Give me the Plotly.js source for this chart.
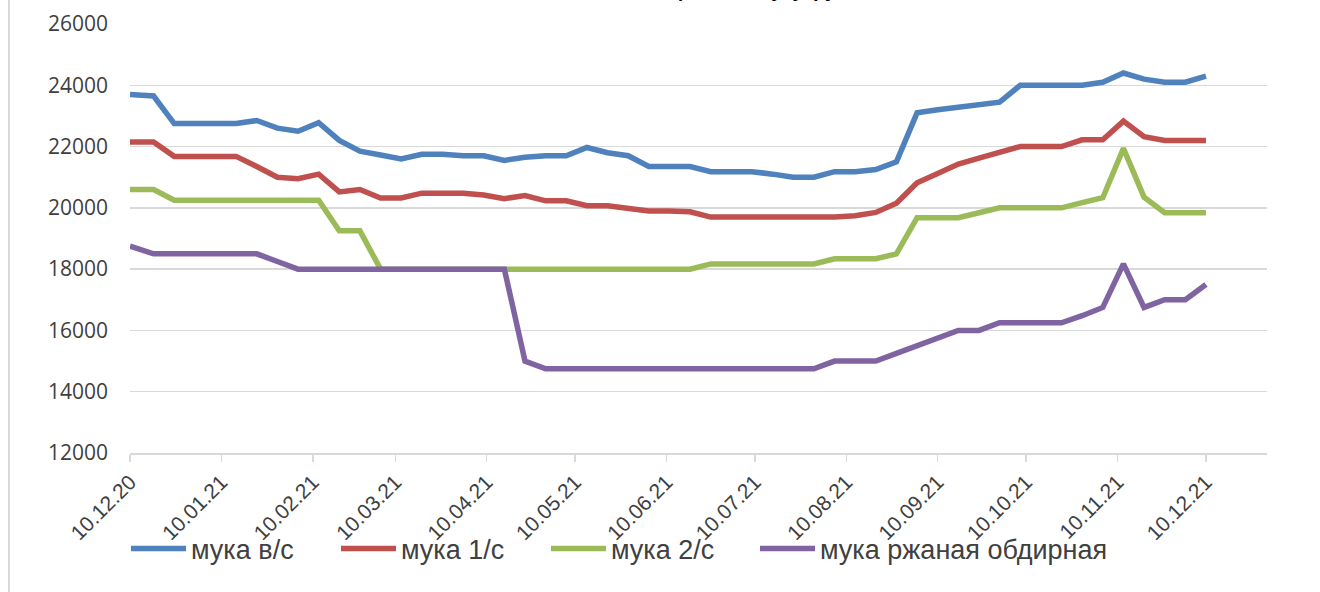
<!DOCTYPE html>
<html><head><meta charset="utf-8">
<script src="https://cdn.plot.ly/plotly-3.0.1.min.js"></script>
<style>html,body{margin:0;padding:0;background:#fff;} #chart{width:1320px;height:592px;}</style>
</head><body><div id="chart"></div>
<script>
const dates = ['2020-12-10','2020-12-18','2020-12-25','2021-01-01','2021-01-08','2021-01-15','2021-01-22','2021-01-29',
'2021-02-05','2021-02-12','2021-02-19','2021-02-26','2021-03-05','2021-03-12','2021-03-19','2021-03-26',
'2021-04-02','2021-04-09','2021-04-16','2021-04-23','2021-04-30','2021-05-07','2021-05-14','2021-05-21','2021-05-28',
'2021-06-04','2021-06-11','2021-06-18','2021-06-25','2021-07-02','2021-07-09','2021-07-16','2021-07-23','2021-07-30',
'2021-08-06','2021-08-13','2021-08-20','2021-08-27','2021-09-03','2021-09-10','2021-09-17','2021-09-24',
'2021-10-01','2021-10-08','2021-10-15','2021-10-22','2021-10-29','2021-11-05','2021-11-12','2021-11-19','2021-11-26',
'2021-12-03','2021-12-10'];

const flourTop = [23700,23650,22750,22750,22750,22750,22850,22600,22500,22780,22200,21850,21725,21600,21750,21750,
21700,21700,21550,21650,21700,21700,21970,21800,21700,21350,21350,21350,21180,21180,21180,21100,21000,21000,
21180,21180,21250,21500,23100,23200,23270,23350,23450,24000,24000,24000,24000,24100,24400,24200,24100,24100,24300];

const flour1 = [22150,22150,21680,21680,21680,21680,21350,21000,20950,21100,20520,20600,20320,20320,20480,20480,
20480,20420,20300,20400,20230,20230,20070,20070,19980,19900,19900,19870,19700,19700,19700,19700,19680,19680,
19700,19740,19850,20150,20820,21120,21430,21620,21820,22000,22000,22000,22220,22220,22830,22320,22200,22200,22200];

const flour2 = [20600,20600,20250,20250,20250,20250,20250,20250,20250,20250,19250,19250,18000,18000,18000,18000,
18000,18000,18000,18000,18000,18000,18000,18000,18000,18000,18000,18000,18170,18170,18170,18170,18170,18170,
18340,18340,18340,18500,19680,19680,19680,19840,20000,20000,20000,20000,20170,20330,21940,20350,19840,19840,19840];

const flourRye = [18750,18500,18500,18500,18500,18500,18500,18250,18000,18000,18000,18000,18000,18000,18000,18000,
18000,18000,18000,15000,14750,14750,14750,14750,14750,14750,14750,14750,14750,14750,14750,14750,14750,14750,
15000,15000,15000,15250,15500,15750,16000,16000,16250,16250,16250,16250,16480,16750,18170,16750,17000,17000,17500];

const seriesNames = ['мука в/с','мука 1/с','мука 2/с','мука ржаная обдирная'];
const seriesColors = ['#4F81BD','#C0504D','#9BBB59','#8064A2'];
const tickDates = ['2020-12-10','2021-01-10','2021-02-10','2021-03-10','2021-04-10','2021-05-10','2021-06-10',
'2021-07-10','2021-08-10','2021-09-10','2021-10-10','2021-11-10','2021-12-10'];
const tickLabels = ['10.12.20','10.01.21','10.02.21','10.03.21','10.04.21','10.05.21','10.06.21',
'10.07.21','10.08.21','10.09.21','10.10.21','10.11.21','10.12.21'];
const titleText = 'Цены на муку, руб/т';

const allY = [flourTop, flour1, flour2, flourRye];
const traces = allY.map((ys, i) => ({
  type: 'scatter', mode: 'lines', x: dates, y: ys, name: seriesNames[i],
  legend: i < 3 ? 'legend' : 'legend2',
  line: {color: seriesColors[i], width: 5.5}
}));

const legendFont = {size: 27, color: '#404040', family: 'Liberation Sans, Arial, sans-serif'};

const layout = {
  width: 1320, height: 592,
  paper_bgcolor: '#fff', plot_bgcolor: '#fff',
  margin: {l: 130, r: 53, t: 24, b: 139},
  font: {family: 'Liberation Sans, Arial, sans-serif', color: '#404040'},
  title: {text: '<b>' + titleText + '</b>', font: {size: 20, color: '#000'},
    xref: 'container', yref: 'container', x: 0.58, y: 1, xanchor: 'center', yanchor: 'bottom', pad: {b: 3}},
  xaxis: {type: 'date', range: ['2020-12-10', '2021-12-30 17:00'],
    tickvals: tickDates, ticktext: tickLabels, tickangle: -45,
    tickfont: {size: 21, color: '#404040', family: 'Liberation Sans, Arial, sans-serif'},
    showgrid: false, zeroline: false, showline: true, linecolor: '#d9d9d9', linewidth: 1.5,
    ticks: 'outside', ticklen: 7, tickcolor: '#d9d9d9', tickwidth: 1.5},
  yaxis: {range: [12000, 26000], dtick: 2000, tick0: 12000, tickformat: 'd',
    showgrid: true, gridcolor: '#d9d9d9', gridwidth: 1.5,
    zeroline: false, showline: false, ticks: '', ticklabelstandoff: 21,
    tickfont: {size: 21, color: '#404040', family: 'Open Sans, sans-serif'}},
  showlegend: true,
  legend: {orientation: 'h', xref: 'container', yref: 'container', x: 126 / 1320, y: (592 - 549) / 592,
    xanchor: 'left', yanchor: 'middle', bgcolor: 'rgba(0,0,0,0)', font: legendFont,
    itemwidth: 55, entrywidth: 140, entrywidthmode: 'pixels', traceorder: 'normal'},
  legend2: {orientation: 'h', xref: 'container', yref: 'container', x: 755 / 1320, y: (592 - 549) / 592,
    xanchor: 'left', yanchor: 'middle', bgcolor: 'rgba(0,0,0,0)', font: legendFont,
    itemwidth: 55, traceorder: 'normal'}
};

Plotly.newPlot('chart', traces, layout, {displayModeBar: false, staticPlot: true});
</script>
<div style="position:absolute;left:8px;top:0;width:1.5px;height:592px;background:#d9d9d9;"></div>
</body></html>
